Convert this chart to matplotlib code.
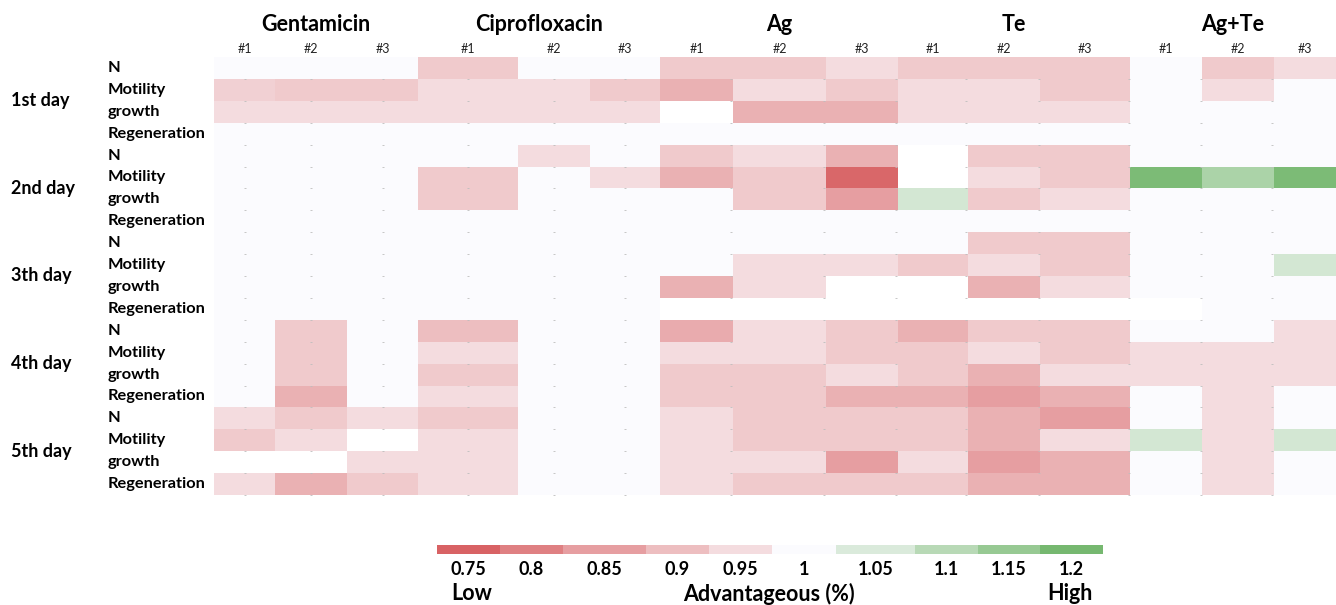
import numpy as np
import matplotlib
matplotlib.use('Agg')
import matplotlib.pyplot as plt
from matplotlib.colors import LinearSegmentedColormap, Normalize

plt.rcParams['font.family'] = ['Lato', 'DejaVu Sans']

groups = ['Gentamicin', 'Ciprofloxacin', 'Ag', 'Te', 'Ag+Te']
replicates = ['#1', '#2', '#3']
days = ['1st day', '2nd day', '3th day', '4th day', '5th day']
measures = ['N', 'Motility', 'growth', 'Regeneration']
nan = np.nan

# columns: Gentamicin #1-3, Ciprofloxacin #1-3, Ag #1-3, Te #1-3, Ag+Te #1-3
day1 = [
    [1, 1, 1, .92, 1, 1, .92, .92, .95, .92, .92, .92, 1, .92, .95],
    [.93, .92, .92, .95, .95, .92, .88, .95, .92, .95, .95, .92, 1, .95, 1],
    [.95, .95, .95, .95, .95, .95, nan, .88, .88, .95, .95, .95, 1, 1, 1],
    [1, 1, 1, 1, 1, 1, 1, 1, 1, 1, 1, 1, 1, 1, 1],
]
day2 = [
    [1, 1, 1, 1, .95, 1, .92, .95, .88, nan, .92, .92, 1, 1, 1],
    [1, 1, 1, .92, 1, .95, .88, .92, .76, nan, .95, .92, 1.19, 1.12, 1.19],
    [1, 1, 1, .92, 1, 1, 1, .92, .85, 1.06, .92, .95, 1, 1, 1],
    [1, 1, 1, 1, 1, 1, 1, 1, 1, 1, 1, 1, 1, 1, 1],
]
day3 = [
    [1, 1, 1, 1, 1, 1, 1, 1, 1, 1, .92, .92, 1, 1, 1],
    [1, 1, 1, 1, 1, 1, 1, .95, .95, .92, .95, .92, 1, 1, 1.06],
    [1, 1, 1, 1, 1, 1, .88, .95, nan, nan, .88, .95, 1, 1, 1],
    [1, 1, 1, 1, 1, 1, nan, nan, nan, nan, nan, nan, nan, 1, 1],
]
day4 = [
    [1, .92, 1, .90, 1, 1, .87, .95, .92, .88, .92, .92, 1, 1, .95],
    [1, .92, 1, .95, 1, 1, .95, .95, .92, .92, .95, .92, .95, .95, .95],
    [1, .92, 1, .92, 1, 1, .92, .92, .95, .92, .88, .95, .95, .95, .95],
    [1, .88, 1, .95, 1, 1, .92, .92, .88, .88, .85, .88, 1, .95, 1],
]
day5 = [
    [.95, .92, .95, .92, 1, 1, .95, .92, .92, .92, .88, .85, 1, .95, 1],
    [.92, .95, nan, .95, 1, 1, .95, .92, .92, .92, .88, .95, 1.06, .95, 1.06],
    [nan, nan, .95, .95, 1, 1, .95, .95, .85, .95, .85, .88, 1, .95, 1],
    [.95, .88, .92, .95, 1, 1, .95, .92, .92, .92, .88, .88, 1, .95, 1],
]
legend_values = [0.75, 0.8, 0.85, 0.9, 0.95, 1, 1.05, 1.1, 1.15, 1.2]

# uneven spreadsheet column widths (pixels)
col_widths = [61, 72, 71, 100, 72, 70, 73, 93, 72, 70, 72, 90, 72, 72, 62]
legend_widths = [63, 63, 83, 63, 63, 64, 79, 63, 62, 63]

data = np.ma.masked_invalid(np.array(day1 + day2 + day3 + day4 + day5, dtype=float))
n_rows = data.shape[0]
x_edges = np.concatenate([[0], np.cumsum(col_widths)])
x_centers = (x_edges[:-1] + x_edges[1:]) / 2
y_edges = np.arange(n_rows + 1)

cmap = LinearSegmentedColormap.from_list(
    'adv', [(0, '#d86264'), (0.25 / 0.45, '#fbfbfe'), (1, '#76b870')])
norm = Normalize(vmin=0.75, vmax=1.2)

fig = plt.figure(figsize=(13.36, 6.05), dpi=100)
W, H = 1336, 605
ax = fig.add_axes([214 / W, 1 - 495 / H, 1122 / W, 438 / H])
ax.set_facecolor('white')
ax.pcolormesh(x_edges, y_edges, data, cmap=cmap, norm=norm)

# faint spreadsheet grid marks
mark_x = list(x_centers[:6]) + list(x_edges[7:-1] - 1.5)
mx, my = np.meshgrid(mark_x, y_edges[1:])
ax.scatter(mx.ravel(), my.ravel(), marker='_', s=3, lw=0.6, color='#bdbdbd',
           clip_on=False, zorder=3)

ax.set_xlim(0, x_edges[-1])
ax.set_ylim(n_rows, 0)
ax.set_xticks([])
ax.set_yticks([])
for s in ax.spines.values():
    s.set_visible(False)

# column headers
for g, name in enumerate(groups):
    gx = (x_edges[3 * g] + x_edges[3 * g + 3]) / 2
    ax.text(gx, -1.5, name, ha='center', va='center', fontsize=15.5,
            fontweight='bold', clip_on=False)
    for r, rep in enumerate(replicates):
        ax.text(x_centers[3 * g + r], -0.36, rep, ha='center', va='center',
                fontsize=9, color='#222222', clip_on=False)

# row labels
for d, day in enumerate(days):
    ax.text(-203, 4 * d + 2, day, ha='left', va='center', fontsize=13,
            fontweight='bold', clip_on=False)
    for m, meas in enumerate(measures):
        ax.text(-106, 4 * d + m + 0.5, meas, ha='left', va='center',
                fontsize=11.8, fontweight='bold', clip_on=False)

# legend bar
lx = np.concatenate([[0], np.cumsum(legend_widths)])
cax = fig.add_axes([437 / W, 1 - 554 / H, lx[-1] / W, 9 / H])
cax.pcolormesh(lx, [0, 1], [legend_values], cmap=cmap, norm=norm)
cax.set_xlim(0, lx[-1])
cax.set_xticks((lx[:-1] + lx[1:]) / 2)
cax.set_xticklabels([f'{v:g}' for v in legend_values], fontsize=13,
                    fontweight='bold')
cax.tick_params(length=0, pad=5)
cax.set_yticks([])
for s in cax.spines.values():
    s.set_visible(False)

fig.text(451 / W, 1 - 594 / H, 'Low', ha='left', va='center', fontsize=15.5,
         fontweight='bold')
fig.text(769 / W, 1 - 594 / H, 'Advantageous (%)', ha='center', va='center',
         fontsize=15.5, fontweight='bold')
fig.text(1093 / W, 1 - 594 / H, 'High', ha='right', va='center', fontsize=15.5,
         fontweight='bold')

fig.savefig('out.png', dpi=100, facecolor='white')
